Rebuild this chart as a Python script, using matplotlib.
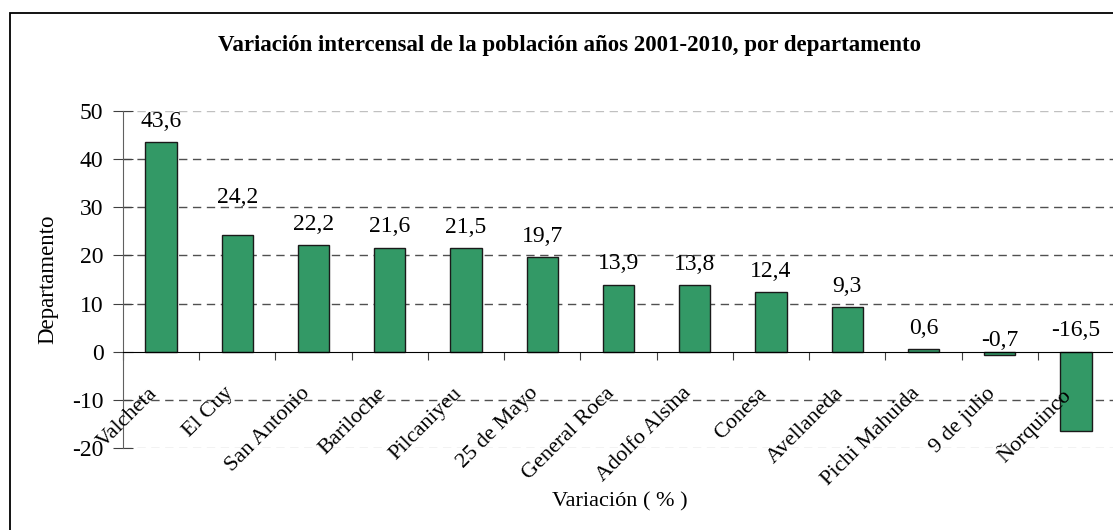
import numpy as np
import matplotlib
matplotlib.use('Agg')
import matplotlib.pyplot as plt
from matplotlib.patches import Rectangle

departamentos = ['Valcheta', 'El Cuy', 'San Antonio', 'Bariloche', 'Pilcaniyeu',
                 '25 de Mayo', 'General Roca', 'Adolfo Alsina', 'Conesa',
                 'Avellaneda', 'Pichi Mahuida', '9 de julio', 'Ñorquinco']
variacion = [43.6, 24.2, 22.2, 21.6, 21.5, 19.7, 13.9, 13.8, 12.4, 9.3, 0.6, -0.7, -16.5]
y_ticks = [-20, -10, 0, 10, 20, 30, 40, 50]

title = 'Variación intercensal de la población años 2001-2010, por departamento'

plt.rcParams['font.family'] = ['Liberation Serif', 'DejaVu Serif']

fig = plt.figure(figsize=(11.13, 5.30), dpi=100)
ax = fig.add_axes([123 / 1113, 0.1547, (1114 - 123) / 1113, 0.6358])

x_pos = np.arange(len(departamentos))
bars = ax.bar(x_pos, variacion, width=0.41, color='#339966',
              edgecolor='#1a1a1a', linewidth=1.0, zorder=3)

ax.set_xlim(-0.5, len(departamentos) - 0.5)
ax.set_ylim(-20, 50)
ax.set_yticks(y_ticks)
ax.set_yticklabels([str(t) for t in y_ticks])

# grid: dashed, lighter at the plot-area limits
for t in y_ticks:
    if t == 0:
        continue
    c = '#c0c0c0' if t in (-20, 50) else '#505050'
    ax.axhline(t, color=c, ls=(0, (6, 4)), lw=1.0, zorder=1)

for s in ['top', 'right']:
    ax.spines[s].set_visible(False)
ax.spines['bottom'].set_position(('data', 0))
ax.spines['bottom'].set_color('black')
ax.spines['bottom'].set_zorder(4)
ax.spines['left'].set_color('#606060')

ax.set_xticks(np.arange(len(departamentos) + 1) - 0.5, minor=False)
ax.set_xticklabels([])
ax.tick_params(axis='x', which='major', direction='out', length=6, color='#404040')
ax.tick_params(axis='y', direction='inout', length=14, color='#404040',
               labelsize=17, pad=7)

for x, name in zip(x_pos, departamentos):
    ax.annotate(name, xy=(x, 0), xycoords='data', xytext=(0, -23),
                textcoords='offset points', rotation=45, ha='right', va='top',
                fontsize=16)

# value labels (manual nudges where the original moved them)
nudge = {1: 12, 11: -7}
for i, v in enumerate(variacion):
    off = 15 + nudge.get(i, 0)
    ax.annotate(f'{v:.1f}'.replace('.', ','), xy=(x_pos[i], max(v, 0)),
                xytext=(0, off), textcoords='offset points',
                ha='center', va='center', fontsize=17)

ax.set_ylabel('Departamento', fontsize=16.5, labelpad=10)
fig.text(620 / 1113, 1 - 502 / 530, 'Variación ( % )', ha='center', va='center',
         fontsize=16)
fig.text(570 / 1113, 1 - 45 / 530, title, ha='center', va='center',
         fontsize=16.5, fontweight='bold')

fig.patches.append(Rectangle((10 / 1113, -0.1), 1.2, 1 - 13 / 530 + 0.1,
                             transform=fig.transFigure, fill=False,
                             edgecolor='black', linewidth=1.3))

plt.savefig('out.png', dpi=100)
